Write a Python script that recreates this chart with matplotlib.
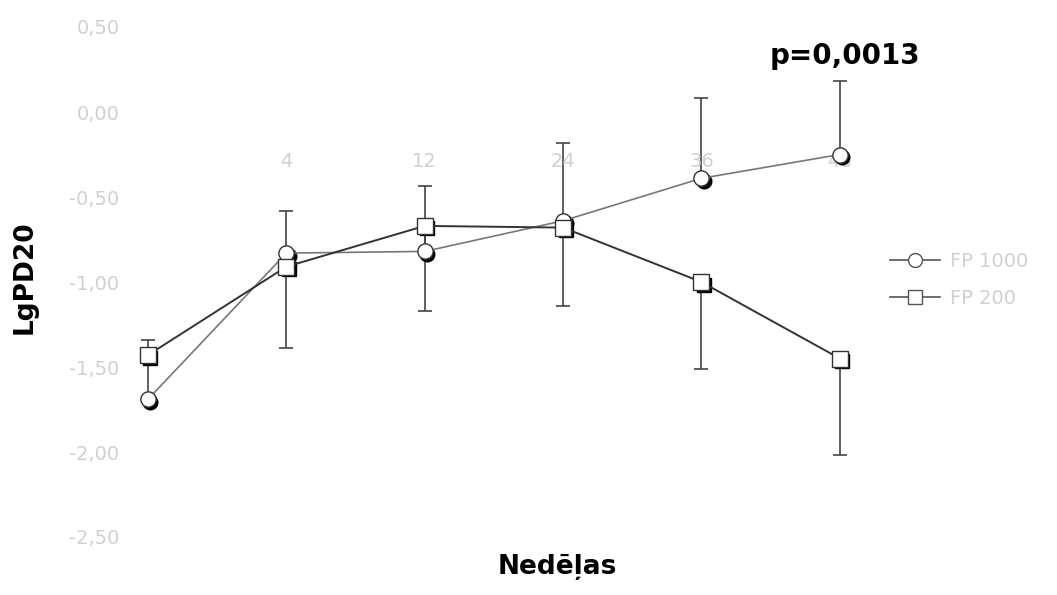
import matplotlib
matplotlib.use("Agg")
import matplotlib.pyplot as plt
import matplotlib.transforms as mtransforms
import numpy as np

weeks = ["", "4", "12", "24", "36", "48"]
fp1000 = [-1.69, -0.83, -0.82, -0.64, -0.39, -0.25]
fp1000_err_up = [0.35, 0.25, 0.385, 0.46, 0.47, 0.43]
fp200 = [-1.43, -0.91, -0.67, -0.68, -1.00, -1.45]
fp200_err_down = [0.04, 0.48, 0.50, 0.46, 0.51, 0.57]
yticks = [0.5, 0.0, -0.5, -1.0, -1.5, -2.0, -2.5]

faint = "#d0d0d0"
bar_color = "#444444"

fig = plt.figure(figsize=(10.57, 5.95), dpi=100)
ax = fig.add_axes([125 / 1057, 1 - 537 / 595, 784 / 1057, 510 / 595])
x = np.arange(len(weeks))
zeros = np.zeros(len(weeks))
top1000 = np.array(fp1000) + np.array(fp1000_err_up)
bottom200 = np.array(fp200) - np.array(fp200_err_down)

# one-sided error bars: FP 1000 upwards, FP 200 downwards
ax.errorbar(x, fp1000, yerr=[zeros, fp1000_err_up], fmt="none",
            ecolor=bar_color, elinewidth=1.2, capsize=0, zorder=1)
ax.errorbar(x, fp200, yerr=[fp200_err_down, zeros], fmt="none",
            ecolor=bar_color, elinewidth=1.2, capsize=0, zorder=1)
ax.plot(x, top1000, "_", ms=10, mew=1.2, color=bar_color, zorder=1)
ax.plot(x, bottom200, "_", ms=10, mew=1.2, color=bar_color, zorder=1)

# marker shadows
shadow = mtransforms.offset_copy(ax.transData, fig=fig, x=1.8, y=-1.8, units="points")
ax.plot(x, fp1000, "o", ms=10.5, color="black", mec="black", transform=shadow, zorder=2)
ax.plot(x, fp200, "s", ms=10.5, color="black", mec="black", transform=shadow, zorder=2)

ax.plot(x, fp1000, "-", color="#777777", lw=1.2, zorder=2.5)
ax.plot(x, fp200, "-", color="#333333", lw=1.4, zorder=2.5)
ax.plot(x, fp1000, "o", ms=11, mfc="white", mec="#333333", mew=1.0, zorder=3)
ax.plot(x, fp200, "s", ms=11, mfc="white", mec="#333333", mew=1.0, zorder=3)

ax.set_xlim(-0.166, 5.5)
ax.set_ylim(-2.5, 0.5)
ax.set_yticks(yticks)
ax.set_yticklabels([f"{v:.2f}".replace(".", ",") for v in yticks])
ax.set_xticks(x)
ax.set_xticklabels(weeks)
ax.spines["bottom"].set_position(("data", -0.2))
for s in ax.spines.values():
    s.set_visible(False)
ax.tick_params(axis="both", length=0, colors=faint, labelsize=14)
ax.tick_params(axis="x", pad=4)
ax.tick_params(axis="y", pad=4)

fig.text(25 / 1057, 1 - 277 / 595, "LgPD20", rotation=90, ha="center", va="center",
         fontsize=19, fontweight="bold", color="black")
fig.text(557 / 1057, 1 - 567 / 595, "Nedēļas", ha="center", va="center",
         fontsize=19, fontweight="bold", color="black")
ax.text(x[-1] + 0.04, 0.33, "p=0,0013", ha="center", va="center",
        fontsize=20, fontweight="bold", color="black")

# legend
h1, = ax.plot([], [], "-o", color="#555555", ms=10, mfc="white", mec="#555555", lw=1.2)
h2, = ax.plot([], [], "-s", color="#555555", ms=10, mfc="white", mec="#555555", lw=1.2)
fig.legend([h1, h2], ["FP 1000", "FP 200"], loc="center left",
           bbox_to_anchor=(872 / 1057, 1 - 280 / 595), frameon=False,
           fontsize=14, labelcolor=faint, handlelength=2.6, handletextpad=0.5,
           labelspacing=0.9)

fig.savefig("out.png", dpi=100)
